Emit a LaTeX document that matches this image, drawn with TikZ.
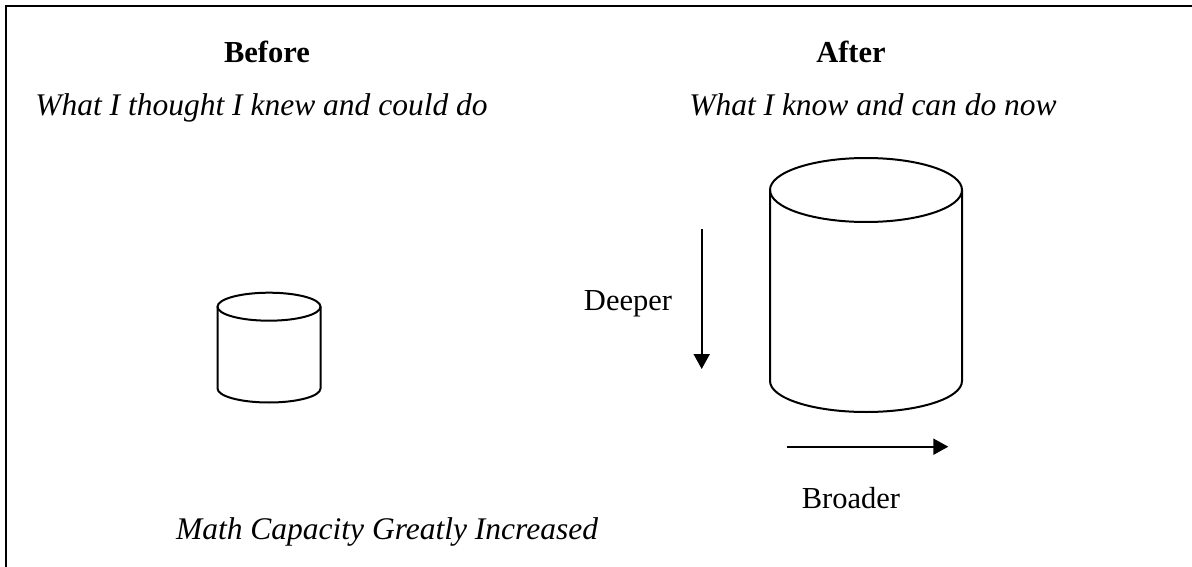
\documentclass[tikz,border=0pt]{standalone}
\usepackage{fontspec}
\setmainfont{Liberation Serif}
\usetikzlibrary{arrows.meta}
\begin{document}
\begin{tikzpicture}[x=1pt,y=-1pt,
  txt/.style={anchor=base,inner sep=0pt,font=\fontsize{30.5}{36}\selectfont},
  ttl/.style={txt,font=\fontsize{30.5}{36}\selectfont\bfseries},
  itl/.style={txt,font=\fontsize{31.5}{36}\selectfont\itshape},
  cyl/.style={line width=2pt,draw=black},
  arr/.style={line width=2pt,-{Triangle[length=15pt,width=16pt]}}]
\useasboundingbox (0,0) rectangle (1192,567);
% frame
\draw[line width=2.5pt] (1192,6) -- (6,6) -- (6,567);
% titles
\node[ttl] (before) at (267,63) {Before};
\node[ttl] (after) at (851,63) {After};
\node[itl] (thought) at (261.5,116) {What I thought I knew and could do};
\node[itl] (know) at (873,116) {What I know and can do now};
\node[txt] (deeper) at (628,310) {Deeper};
\node[txt] (broader) at (851,508) {Broader};
\node[itl] (math) at (387,539) {Math Capacity Greatly Increased};
% small cylinder
\draw[cyl] (269,306.7) ellipse [x radius=51.5, y radius=14];
\draw[cyl] (217.5,306.7) -- (217.5,388.5) arc[start angle=180,end angle=0,x radius=51.5,y radius=14] -- (320.5,306.7);
% large cylinder
\draw[cyl] (866,190) ellipse [x radius=96, y radius=32];
\draw[cyl] (770,190) -- (770,381) arc[start angle=180,end angle=0,x radius=96,y radius=31] -- (962,190);
% arrows
\coordinate (d1) at (701.7,229.3);
\coordinate (d2) at (701.7,369);
\coordinate (b1) at (787.3,446.7);
\coordinate (b2) at (948.3,446.7);
\draw[arr] (d1) -- (d2);
\draw[arr] (b1) -- (b2);
\end{tikzpicture}
\end{document}
